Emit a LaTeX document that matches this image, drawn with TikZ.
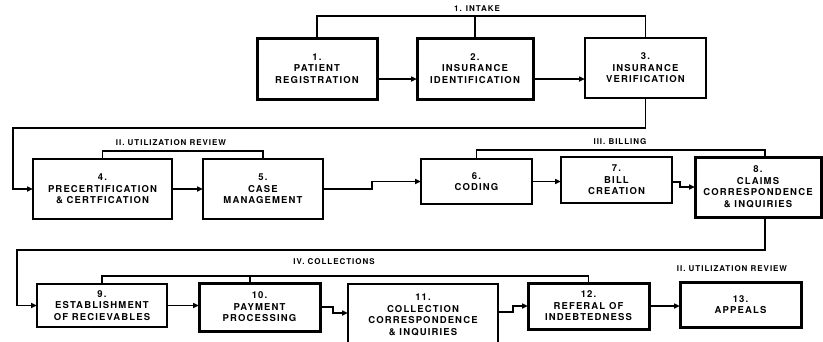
\documentclass[tikz,border=0pt]{standalone}
\usepackage{fontspec}
\setmainfont{TeX Gyre Heros}[LetterSpace=12]
\usetikzlibrary{arrows.meta}
\begin{document}
\begin{tikzpicture}[x=1pt,y=-1pt,
  stage/.style={draw, line width=2.2pt, align=center,
    font=\fontsize{9.5}{11.5}\selectfont\bfseries, inner sep=0pt, outer sep=0pt},
  heavy/.style={line width=3pt},
  light/.style={line width=1.6pt},
  link/.style={line width=1.6pt},
  flow/.style={link, -{Triangle[length=6pt,width=5pt]}},
  phase/.style={font=\fontsize{8}{9}\selectfont\bfseries, inner sep=0pt},
]
\useasboundingbox[fill=white] (0,0) rectangle (823,341);

% I. Intake
\node[stage, heavy, minimum width=120, minimum height=61] (n1) at (317,68.5)
  {1.\\PATIENT\\REGISTRATION};
\node[stage, heavy, minimum width=116, minimum height=61] (n2) at (475,68.5)
  {2.\\INSURANCE\\IDENTIFICATION};
\node[stage, light, minimum width=121, minimum height=60] (n3) at (645.5,68)
  {3.\\INSURANCE\\VERIFICATION};

% II. Utilization review, III. Billing
\node[stage, minimum width=139, minimum height=60] (n4) at (102.5,189)
  {4.\\PRECERTIFICATION\\\& CERTFICATION};
\node[stage, minimum width=120, minimum height=60] (n5) at (263,189)
  {5.\\CASE\\MANAGEMENT};
\node[stage, light, minimum width=111, minimum height=45] (n6) at (476.5,181.5)
  {6.\\CODING};
\node[stage, minimum width=111, minimum height=46] (n7) at (616.5,180)
  {7.\\BILL\\CREATION};
\node[stage, heavy, minimum width=126, minimum height=60] (n8) at (758,187)
  {8.\\CLAIMS\\CORRESPONDENCE\\\& INQUIRIES};

% IV. Collections
\node[stage, minimum width=130, minimum height=43] (n9) at (102,305.5)
  {9.\\ESTABLISHMENT\\OF RECIEVABLES};
\node[stage, heavy, minimum width=121, minimum height=48] (n10) at (259.5,307)
  {10.\\PAYMENT\\PROCESSING};
\node[stage, minimum width=150, minimum height=62] (n11) at (423,315)
  {11.\\COLLECTION\\CORRESPONDENCE\\\& INQUIRIES};
\node[stage, heavy, minimum width=121, minimum height=46] (n12) at (588.5,306)
  {12.\\REFERAL OF\\INDEBTEDNESS};
\node[stage, heavy, minimum width=121, minimum height=45] (n13) at (740.5,304.5)
  {13.\\APPEALS};

% phase brackets and their titles
\coordinate (intake) at (475,16);
\coordinate (review) at (103,151);
\coordinate (billing) at (477,150);
\coordinate (collect) at (102,276);

\draw[link] (n1.north) |- (intake) -| (n3.north);
\draw[link] (intake) -- (n2.north);
\node[phase] (tIntake) at (477,9) {1. INTAKE};

\draw[link] (n4.north) -- (n4.north |- review) -| (n5.north);
\node[phase] (tReview) at (171,143) {II. UTILIZATION REVIEW};

\draw[link] (n6.north) -- (n6.north |- billing) -| ([xshift=7pt]n8.north);
\node[phase] (tBilling) at (620,142) {III. BILLING};

\draw[link] (n9.north) -- (n9.north |- collect) -| (n12.north);
\draw[link] ([xshift=-9.5pt]n10.north |- collect) -- ([xshift=-9.5pt]n10.north);
\node[phase] (tCollect) at (334,262) {IV. COLLECTIONS};

\node[phase] (tAppeal) at (732,269) {II. UTILIZATION REVIEW};

% flow between the steps
\draw[flow] ([yshift=-10.5pt]n1.east) coordinate (a12) -- (a12 -| n2.west);
\draw[flow] ([yshift=-10.5pt]n2.east) coordinate (a23) -- (a23 -| n3.west);

\coordinate (turnA) at (13,128);
\draw[flow] (n3.south) |- (turnA) |- (n4.west);

\draw[flow] (n4.east) -- (n4.east -| n5.west);
\draw[flow] (n5.east) -- ++(49,0) |- (n6.west);
\draw[flow] (n6.east) -- (n6.east -| n7.west);
\draw[flow] ([yshift=-2pt]n7.east) -- ++(8,0) |- (n8.west);

\coordinate (turnB) at (17,250);
\draw[flow] ([xshift=7pt]n8.south) |- (turnB) |- (n9.west);

\draw[flow] (n9.east) -- (n9.east -| n10.west);
\draw[flow] (n10.east) -- ++(13,0) |- ([yshift=2pt]n11.west);
\draw[flow] ([yshift=3pt]n11.east) -- ++(15,0) |- (n12.west);
\draw[flow] (n12.east) -- (n12.east -| n13.west);
\end{tikzpicture}
\end{document}
